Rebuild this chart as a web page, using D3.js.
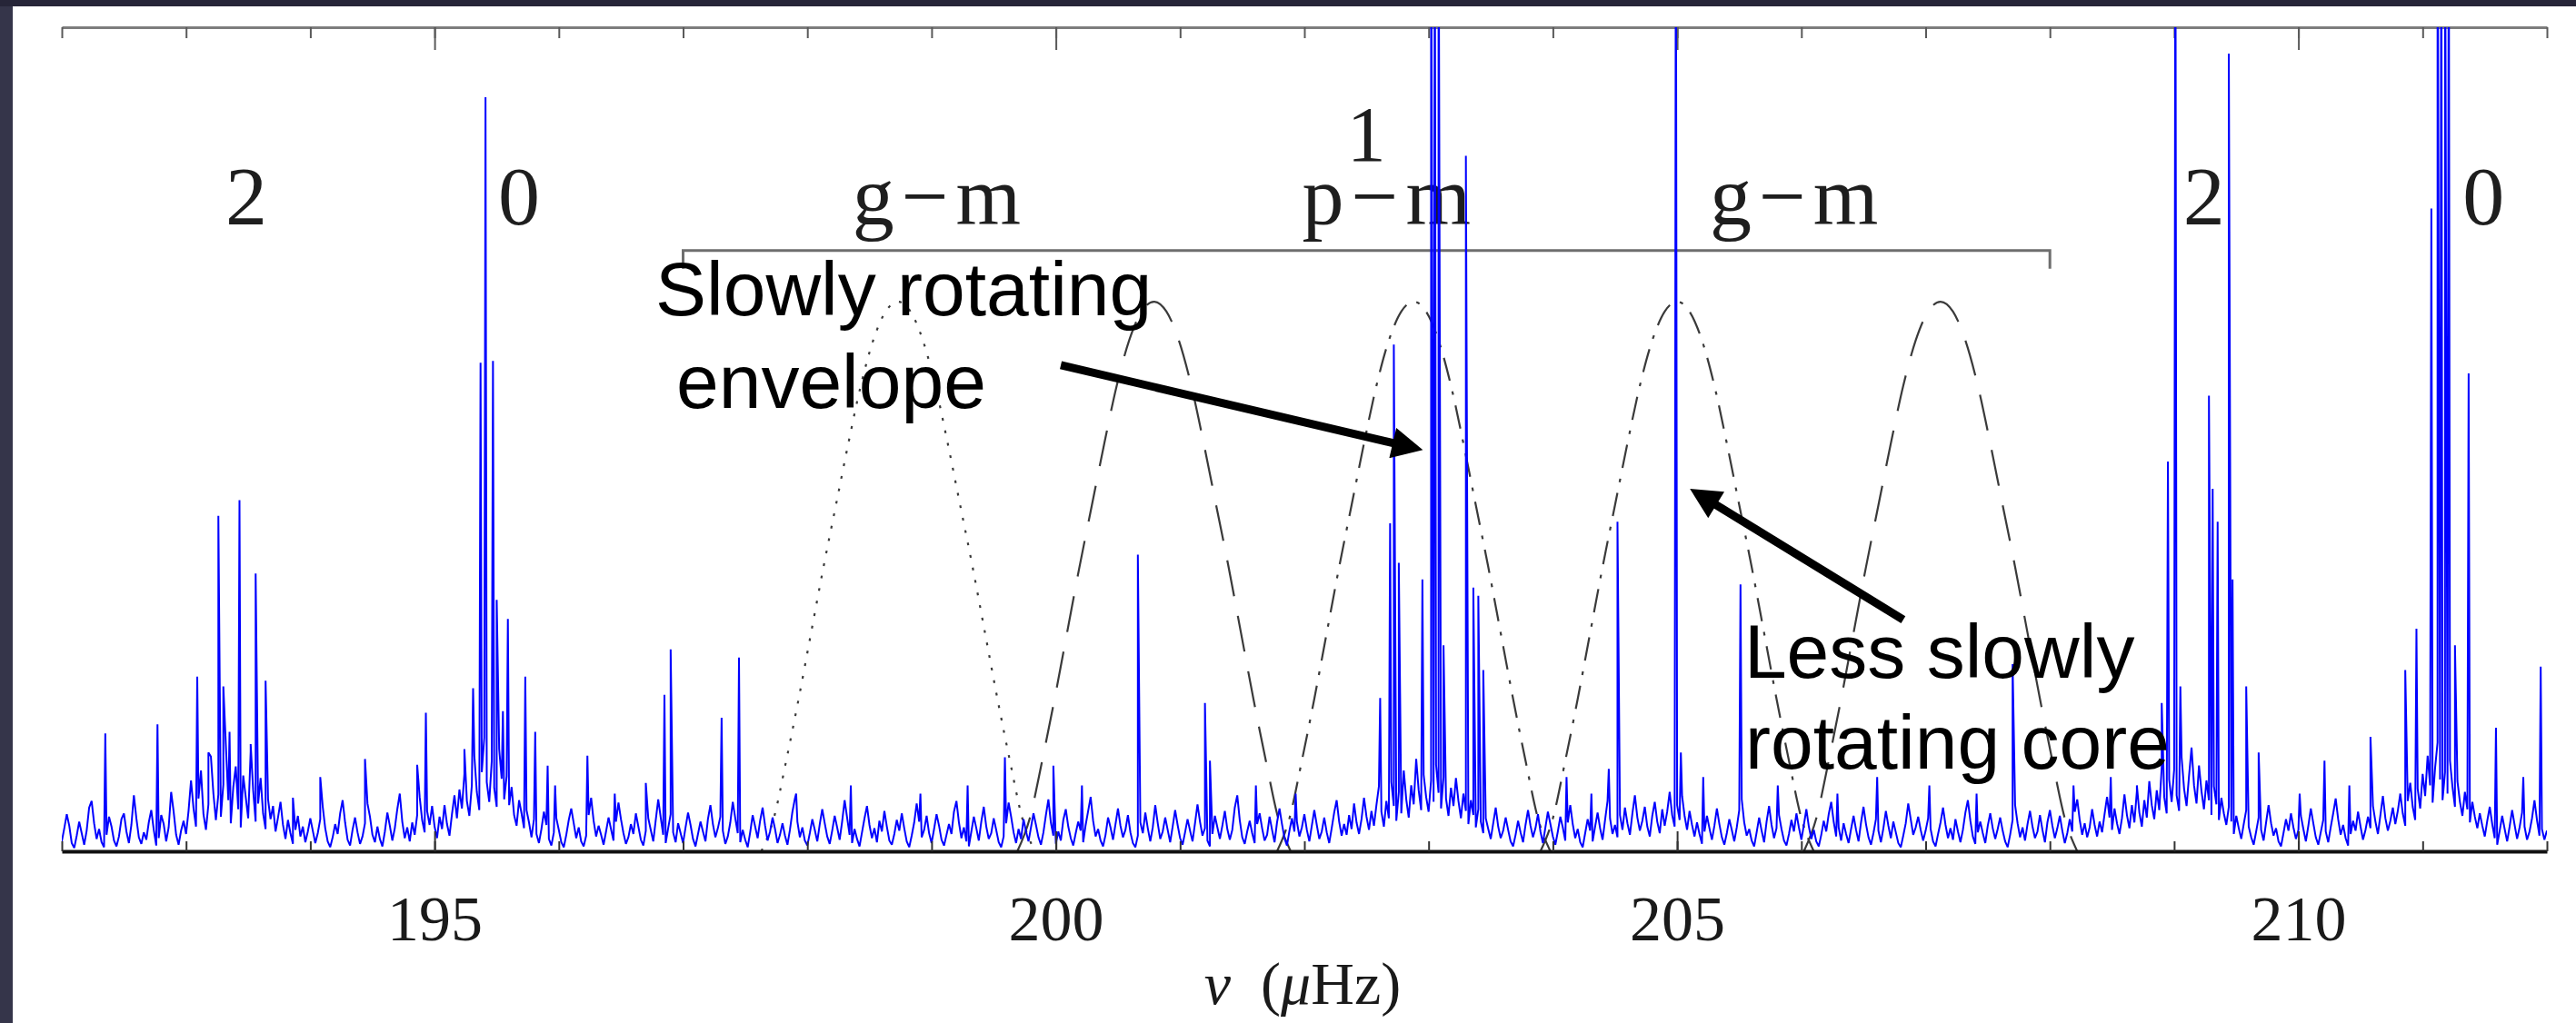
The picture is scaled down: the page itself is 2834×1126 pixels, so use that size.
<!DOCTYPE html>
<html>
<head>
<meta charset="utf-8">
<script src="https://cdn.jsdelivr.net/npm/d3@7"></script>
<style>
  html, body { margin: 0; padding: 0; background: #fff; }
  svg { display: block; }
</style>
</head>
<body>
<svg id="chart"></svg>
<script>
const W = 2834, H = 1126;

// noise floor of the power spectrum, one value every 0.02 uHz from 192 uHz
const noiseStart = 192, noiseStep = 0.02;
const noise = [
  // 192
  1.2,2.8,4.5,3.1,1.0,0.4,1.9,3.6,2.2,0.8,
  2.5,5.3,6.1,3.4,1.5,2.7,1.1,0.5,2.0,4.2,
  3.0,1.3,0.6,1.8,3.9,4.6,2.4,1.0,3.2,6.8,
  4.0,1.7,0.9,2.3,1.4,3.5,5.0,2.6,0.7,1.6,
  4.4,3.3,1.2,2.9,7.2,4.8,2.0,0.8,2.5,3.7,
  // 193
  2.1,4.9,8.6,5.2,3.0,6.4,9.8,4.5,2.6,5.7,
  11.5,7.0,3.8,6.9,4.2,8.1,13.0,6.2,3.4,7.8,
  10.3,5.1,2.9,9.2,6.6,4.0,12.1,7.4,3.6,5.8,
  8.9,4.6,2.7,6.3,3.9,5.5,2.4,4.1,6.0,3.2,
  1.5,3.8,2.2,0.9,2.6,4.3,1.8,3.0,1.1,2.4,
  // 194
  4.0,2.5,1.0,2.2,3.9,5.4,2.8,1.2,0.5,1.7,
  3.3,2.1,4.6,6.2,3.5,1.4,0.7,2.6,4.1,2.3,
  0.9,1.8,3.4,5.8,4.2,2.0,1.1,3.0,1.5,0.6,
  2.4,4.7,3.1,1.3,2.8,5.1,7.0,3.6,1.6,2.9,
  1.2,3.5,2.0,4.4,6.6,3.8,2.3,4.9,3.2,5.5,
  // 195
  3.0,1.6,4.2,2.7,5.6,3.3,1.9,4.5,6.8,4.0,
  7.5,5.2,9.4,6.1,4.3,8.0,11.6,7.2,5.0,9.6,
  13.8,8.4,6.0,10.9,7.7,5.4,12.4,8.8,6.3,9.1,
  5.6,7.8,4.4,3.1,6.2,4.6,2.8,5.0,3.5,1.7,
  3.9,2.1,1.0,2.7,4.8,3.2,1.5,0.7,2.3,4.0,
  // 196
  2.6,1.1,0.5,2.0,3.8,5.2,3.4,1.6,2.9,1.2,
  0.6,1.9,4.4,6.5,3.7,1.8,3.1,2.0,0.8,2.4,
  4.1,2.7,1.3,3.6,5.9,3.9,2.2,0.9,1.7,3.3,
  2.1,4.6,3.0,1.4,0.7,2.5,4.0,2.6,1.2,3.8,
  6.3,4.1,2.0,1.0,2.8,4.5,2.3,1.1,3.4,2.2,
  // 197
  1.0,2.9,4.7,3.2,1.5,0.6,2.1,3.6,2.4,1.2,
  3.9,5.6,3.3,1.7,2.8,4.2,2.5,0.9,1.8,3.5,
  6.0,4.0,2.2,1.1,2.6,1.4,0.5,2.3,4.4,3.0,
  1.6,3.7,5.3,3.1,1.3,2.4,4.1,2.7,1.0,2.0,
  3.4,1.9,0.8,2.6,4.8,6.4,3.6,1.7,2.9,1.3,
  // 198
  0.7,2.2,3.9,2.6,1.2,3.3,5.1,3.4,1.8,0.9,
  2.5,4.3,2.9,1.4,3.6,6.2,4.1,2.0,1.0,2.7,
  1.5,0.6,2.3,4.0,5.5,3.2,1.6,2.8,1.1,3.7,
  2.4,4.9,3.0,1.3,0.8,2.1,3.8,2.5,4.6,2.8,
  1.2,0.5,1.9,3.5,5.8,3.6,1.7,2.6,4.3,2.2,
  // 199
  1.0,2.7,4.5,3.1,1.4,0.7,2.0,3.3,2.1,4.8,
  6.1,3.5,1.6,2.9,1.2,0.6,2.4,4.2,2.8,1.3,
  3.6,5.4,3.0,1.5,2.2,4.0,2.6,1.1,0.5,1.8,
  3.4,5.9,4.2,2.3,1.0,2.7,1.5,3.9,2.4,1.2,
  2.9,4.6,3.2,1.7,0.8,2.3,4.4,6.3,3.5,1.9,
  // 200
  0.9,2.4,1.3,3.8,5.1,3.0,1.6,0.7,2.2,3.6,
  2.5,1.1,3.2,4.9,6.6,3.7,1.8,2.7,1.3,0.6,
  2.0,4.1,2.9,1.4,3.3,5.2,3.1,1.7,2.6,4.4,
  2.3,1.0,0.5,1.9,3.5,2.2,4.7,2.8,1.2,2.9,
  5.6,3.4,1.5,2.4,4.1,2.6,1.1,3.0,5.0,3.2,
  // 201
  1.6,0.8,2.3,3.9,2.5,1.2,3.4,5.7,3.6,1.9,
  2.8,1.3,0.6,2.1,4.3,2.9,1.5,3.1,4.9,2.7,
  1.4,2.6,5.3,6.8,3.8,1.7,0.9,2.4,3.7,2.2,
  1.0,3.3,4.6,2.8,1.3,2.0,4.2,2.6,1.1,3.5,
  5.2,3.3,1.6,0.7,2.5,4.0,2.4,3.6,1.8,2.9,
  // 202
  4.5,2.6,1.2,3.1,5.0,3.2,1.5,2.4,4.1,2.3,
  1.0,2.8,4.7,6.2,3.6,1.9,3.3,2.0,4.4,2.7,
  5.8,3.5,2.1,3.9,6.5,4.2,2.6,4.9,3.1,5.6,
  7.9,4.8,3.0,6.1,4.0,8.4,5.5,3.7,7.2,4.6,
  9.8,6.3,4.1,8.0,5.7,11.2,7.4,5.0,9.3,6.6,
  // 203
  4.8,8.6,6.0,10.5,7.1,5.2,9.0,6.4,4.3,7.7,
  5.5,8.9,6.1,4.0,7.0,4.9,3.3,6.2,4.4,2.9,
  5.1,3.6,2.2,4.0,2.7,1.5,3.4,5.3,3.0,1.6,
  2.5,4.1,2.6,1.2,0.6,2.0,3.7,2.3,1.1,3.2,
  5.0,3.1,1.7,2.8,4.5,2.4,1.0,2.9,4.8,3.3,
  // 204
  1.8,0.8,2.4,4.2,2.9,1.3,3.5,5.6,3.3,1.6,
  2.7,1.1,0.5,2.2,3.9,2.5,1.2,3.0,4.7,2.8,
  1.4,3.8,6.1,4.0,2.1,3.2,1.7,4.4,2.6,5.3,
  3.4,2.0,4.6,6.8,4.1,2.5,3.7,5.4,3.0,1.8,
  4.3,6.0,3.6,2.2,5.1,3.1,4.8,7.2,4.4,3.0,
  // 205
  5.6,3.8,6.7,4.3,2.6,4.9,3.2,1.8,3.5,2.1,
  0.9,2.4,4.3,2.8,1.4,3.1,5.2,3.3,1.7,0.8,
  2.2,3.9,2.6,1.2,2.9,5.0,6.3,3.5,1.9,2.7,
  1.3,0.6,2.3,4.1,2.5,1.1,3.6,5.5,3.2,1.6,
  2.8,4.4,2.7,1.3,0.7,2.1,3.8,2.4,4.6,2.9,
  // 206
  1.4,3.2,5.1,3.0,1.5,2.6,1.2,0.6,2.0,3.7,
  2.4,4.5,6.0,3.6,1.8,2.9,1.3,3.4,2.1,1.0,
  2.7,4.3,2.6,1.2,3.5,5.4,3.3,1.7,0.8,2.2,
  3.9,2.5,1.1,2.8,4.9,3.1,1.6,3.6,2.3,1.0,
  0.5,1.9,3.4,5.8,3.9,2.0,2.9,4.2,2.6,1.3,
  // 207
  2.5,4.0,2.7,1.2,0.6,2.1,3.5,5.3,3.2,1.6,
  2.8,1.4,3.9,2.4,1.1,2.6,4.7,6.2,3.7,1.8,
  0.9,2.3,3.6,2.2,1.0,3.1,4.6,2.8,1.5,2.7,
  4.1,2.5,1.2,0.5,2.0,3.8,5.6,3.4,1.7,2.9,
  1.3,3.3,4.9,3.0,1.6,2.4,4.4,2.6,1.1,3.5,
  // 208
  5.0,3.1,1.6,2.8,4.3,2.5,1.0,2.2,3.9,2.4,
  4.8,6.3,3.8,2.0,3.4,1.7,2.9,5.1,3.2,1.8,
  3.6,2.3,4.5,6.6,4.1,2.6,5.2,3.4,2.1,4.0,
  6.9,4.4,2.8,5.6,3.5,7.3,4.7,3.0,6.2,4.1,
  8.5,5.6,3.9,7.4,5.0,10.2,6.6,4.6,8.7,6.0,
  // 209
  9.9,6.8,4.9,11.4,7.6,5.5,9.2,12.6,8.0,5.8,
  10.4,7.3,5.1,8.6,6.2,4.4,7.9,5.7,3.8,6.5,
  4.6,3.2,5.4,3.6,2.1,4.3,2.8,1.5,3.3,5.0,
  3.0,1.7,0.8,2.4,4.1,2.6,1.3,3.5,5.6,3.4,
  1.9,2.8,1.2,0.6,2.2,3.9,2.5,4.6,2.9,1.5,
  // 210
  2.6,4.3,2.7,1.2,3.1,5.2,3.4,1.7,0.8,2.3,
  3.8,2.4,1.1,2.9,4.6,6.4,3.9,2.0,3.2,1.6,
  0.7,2.1,3.7,2.5,4.8,3.0,1.4,2.6,4.2,2.8,
  5.5,3.6,2.1,4.4,6.7,4.0,2.5,3.7,5.3,3.3,
  4.9,7.0,4.6,3.1,6.1,8.3,5.4,3.8,7.6,5.2,
  // 211
  9.4,6.7,11.6,8.0,5.9,10.1,13.2,8.7,6.2,9.6,
  7.0,11.0,7.8,5.4,8.5,6.0,4.3,7.2,5.1,3.5,
  6.0,4.2,2.8,4.6,3.1,1.8,3.7,5.4,3.3,1.6,
  0.8,2.5,4.3,2.7,1.2,3.0,5.0,3.2,1.5,2.9,
  4.7,3.0,1.4,2.4,4.0,6.2,3.8,1.9,2.7,1.4,
  // 212
  2.5
];

// resolved mode peaks and isolated noise spikes: [frequency (uHz), power];
// values above 100 run off the top of the frame
const peaks = [
  [192.35,14.3],[192.77,15.4],[193.09,21.2],[193.18,12],[193.26,40.7],[193.30,20],
  [193.35,14.5],[193.43,42.6],[193.52,13],[193.56,33.7],[193.64,20.7],[193.86,6.5],
  [194.08,9],[194.44,11.2],[194.86,10.5],[194.93,16.8],[195.24,12.4],[195.31,19.8],
  [195.37,59.3],[195.41,91.5],[195.47,59.5],[195.50,30.5],[195.55,17],[195.59,28.2],
  [195.73,21.2],[195.81,14.5],[195.91,10.4],[195.97,8],[196.23,11.6],[196.45,7],
  [196.70,8.3],[196.85,19],[196.90,24.5],[197.31,16.2],[197.45,23.5],[197.91,7],
  [198.35,8],[198.91,7],[199.29,8],[199.59,11.4],[199.98,10.4],[200.21,8],
  [200.66,36],[201.20,18],[201.24,11],[201.61,8],[201.93,7],[202.61,18.6],
  [202.69,39.8],[202.72,61.5],[202.76,35],[202.95,33],[203.02,120],[203.05,120],
  [203.08,120],[203.12,25],[203.30,84.4],[203.36,32],[203.40,31],[203.44,22],
  [204.11,9],[204.31,7],[204.45,10],[204.52,40],[204.99,120],[205.03,12],
  [205.21,9],[205.51,32.4],[205.81,8],[206.29,7],[206.61,9],[207.03,8],
  [207.41,7],[207.70,22.7],[208.19,8],[208.49,9],[208.70,8],[208.90,18],
  [208.95,47.3],[209.01,120],[209.05,20],[209.28,55.3],[209.31,44],[209.35,40],
  [209.44,96.8],[209.47,33],[209.58,20],[209.68,12],[210.01,7],[210.21,11],
  [210.41,8],[210.58,13.9],[210.86,22],[210.95,27],[211.07,78],[211.12,120],
  [211.15,120],[211.18,120],[211.21,120],[211.26,25],[211.37,58],[211.59,15],
  [211.81,9],[211.95,22.4]
];

const envOffsets = [-1.1,-1.0,-0.9,-0.8,-0.7,-0.6,-0.5,-0.4,-0.3,-0.2,-0.1,0,
                    0.1,0.2,0.3,0.4,0.5,0.6,0.7,0.8,0.9,1.0,1.1];
const envPower   = [0,4,11,18.5,26.5,34.5,42,49.5,56.5,62,65.5,66.7,
                    65.5,62,56.5,49.5,42,34.5,26.5,18.5,11,4,0];
const envCentres = [198.73, 200.79, 202.88, 205.0, 207.12];
const envStyles  = ["dot", "dash", "dashdot", "dashdot", "dash"];

const xTickLabels = [195, 200, 205, 210];
const minorTicks = d3.range(192, 213);

// degree labels across the top and the mixed-mode labels
const degreeLabels = [
  { text: "2", f: 193.485 }, { text: "0", f: 195.68 },
  { text: "g\u2212m", f: 199.07 },
  { text: "g\u2212m", f: 205.97 }, { text: "2", f: 209.24 }, { text: "0", f: 211.49 }
];
const dipoleLabel = { top: "1", topF: 202.50, text: "p\u2212m", f: 202.69 };
const bracket = [197, 208];

const notes = [
  { text: "Slowly rotating", f: 196.777, v: 65.05 },
  { text: "envelope", f: 196.945, v: 53.8 },
  { text: "Less slowly", f: 205.54, v: 21.06 },
  { text: "rotating core", f: 205.548, v: 10.03 }
];
const arrows = [
  { from: [200.04, 59.0], to: [202.98, 48.6] },
  { from: [206.82, 28.1], to: [205.08, 44.2] }
];

// scales
const x = d3.scaleLinear().domain([192, 212]).range([68, 2802]);
const y = d3.scaleLinear().domain([0, 100]).range([937, 30]);

const svg = d3.select("#chart")
  .attr("width", W)
  .attr("height", H);

svg.append("rect").attr("width", W).attr("height", H).attr("fill", "#fff");
// dark slide frame
svg.append("rect").attr("width", W).attr("height", 7).attr("fill", "#262538");
svg.append("rect").attr("y", 7).attr("width", 14).attr("height", H - 7).attr("fill", "#35354a");

const defs = svg.append("defs");
defs.append("clipPath").attr("id", "plot")
  .append("rect")
  .attr("x", x(192)).attr("y", y(100))
  .attr("width", x(212) - x(192)).attr("height", y(0) - y(100));

defs.append("marker")
  .attr("id", "head")
  .attr("markerUnits", "userSpaceOnUse")
  .attr("viewBox", "0 0 10 10")
  .attr("refX", 5.2).attr("refY", 5)
  .attr("markerWidth", 42).attr("markerHeight", 34)
  .attr("orient", "auto")
  .append("path")
  .attr("d", "M0,0L10,5L0,10z")
  .attr("fill", "#000");

// TOP AXIS (ticks pointing down into the plot)
const topAxis = svg.append("g")
  .attr("transform", "translate(0," + y(100) + ")")
  .call(d3.axisBottom(x).tickValues(minorTicks).tickSize(12).tickSizeOuter(0).tickFormat(""));
topAxis.select(".domain").attr("stroke", "#7d7d7d").attr("stroke-width", 3);
topAxis.selectAll(".tick line").attr("stroke", "#5a5a5a").attr("stroke-width", 2);

const topMajor = svg.append("g")
  .attr("transform", "translate(0," + y(100) + ")")
  .call(d3.axisBottom(x).tickValues(xTickLabels).tickSize(25).tickSizeOuter(0).tickFormat(""));
topMajor.select(".domain").remove();
topMajor.selectAll(".tick line").attr("stroke", "#5a5a5a").attr("stroke-width", 2);

// DEGREE LABELS AND BRACKET
const serif = "'Liberation Serif', 'DejaVu Serif', serif";
svg.append("g").selectAll("text")
  .data(degreeLabels)
  .enter().append("text")
  .attr("x", d => x(d.f))
  .attr("y", y(76.08))
  .attr("text-anchor", "middle")
  .attr("font-family", serif)
  .attr("font-size", 92)
  .attr("letter-spacing", d => d.text.length > 1 ? 8 : 0)
  .attr("fill", "#1e1e1e")
  .text(d => d.text);

// l = 1 label stacked over its p-m label
const dip = svg.append("text")
  .attr("text-anchor", "middle")
  .attr("font-family", serif)
  .attr("fill", "#1e1e1e");
dip.append("tspan")
  .attr("x", x(dipoleLabel.topF)).attr("y", y(83.8))
  .attr("font-size", 86)
  .text(dipoleLabel.top);
dip.append("tspan")
  .attr("x", x(dipoleLabel.f)).attr("y", y(76.08))
  .attr("font-size", 92)
  .attr("letter-spacing", 8)
  .text(dipoleLabel.text);

svg.append("path")
  .attr("d", d3.line()([
    [x(bracket[0]), y(70.7)], [x(bracket[0]), y(72.9)],
    [x(bracket[1]), y(72.9)], [x(bracket[1]), y(70.7)]
  ]))
  .attr("fill", "none")
  .attr("stroke", "#6e6e6e")
  .attr("stroke-width", 3);

// ENVELOPES
const dashes = { dot: "3,11", dash: "40,22", dashdot: "26,12,4,12" };
const envLine = d3.line()
  .x(d => x(d[0]))
  .y(d => y(d[1]))
  .curve(d3.curveMonotoneX);

svg.append("g").selectAll("path")
  .data(envCentres)
  .enter().append("path")
  .attr("d", c => envLine(envOffsets.map((o, j) => [c + o, envPower[j]])))
  .attr("fill", "none")
  .attr("stroke", "#3a3a3a")
  .attr("stroke-width", 2.2)
  .attr("stroke-dasharray", (c, i) => dashes[envStyles[i]]);

// SPECTRUM
const spectrum = noise.map((v, i) => [noiseStart + i * noiseStep, v])
  .concat(peaks)
  .sort((a, b) => a[0] - b[0]);

svg.append("path")
  .datum(spectrum)
  .attr("clip-path", "url(#plot)")
  .attr("d", d3.line().x(d => x(d[0])).y(d => y(d[1])))
  .attr("fill", "none")
  .attr("stroke", "#0000ff")
  .attr("stroke-width", 2)
  .attr("stroke-linejoin", "miter")
  .attr("stroke-miterlimit", 2);

// BOTTOM AXIS
const bottomMinor = svg.append("g")
  .attr("transform", "translate(0," + y(0) + ")")
  .call(d3.axisBottom(x).tickValues(minorTicks).tickSizeInner(-11).tickSizeOuter(0).tickFormat(""));
bottomMinor.select(".domain").attr("stroke", "#111").attr("stroke-width", 4);
bottomMinor.selectAll(".tick line").attr("stroke", "#333").attr("stroke-width", 2);

const bottomAxis = svg.append("g")
  .attr("transform", "translate(0," + y(0) + ")")
  .call(d3.axisBottom(x).tickValues(xTickLabels).tickSizeInner(-22).tickSizeOuter(0).tickPadding(48));
bottomAxis.select(".domain").remove();
bottomAxis.selectAll(".tick line").attr("stroke", "#333").attr("stroke-width", 2);
bottomAxis.selectAll(".tick text")
  .attr("font-family", serif)
  .attr("font-size", 70)
  .attr("fill", "#1a1a1a");

const xLabel = svg.append("text")
  .attr("x", 1433)
  .attr("y", 1105)
  .attr("text-anchor", "middle")
  .attr("font-family", serif)
  .attr("font-size", 66)
  .attr("fill", "#1a1a1a");
xLabel.append("tspan").attr("font-style", "italic").text("\u03bd");
xLabel.append("tspan").text("\u2002(");
xLabel.append("tspan").attr("font-style", "italic").text("\u03bc");
xLabel.append("tspan").text("Hz)");

// ANNOTATIONS
svg.append("g").selectAll("text")
  .data(notes)
  .enter().append("text")
  .attr("x", d => x(d.f))
  .attr("y", d => y(d.v))
  .attr("font-family", "'Liberation Sans', Arial, sans-serif")
  .attr("font-size", 84)
  .attr("fill", "#000")
  .text(d => d.text);

arrows.forEach(a => {
  const x0 = x(a.from[0]), y0 = y(a.from[1]);
  const x1 = x(a.to[0]), y1 = y(a.to[1]);
  const len = Math.hypot(x1 - x0, y1 - y0);
  const k = (len - 20) / len;
  svg.append("line")
    .attr("x1", x0).attr("y1", y0)
    .attr("x2", x0 + (x1 - x0) * k).attr("y2", y0 + (y1 - y0) * k)
    .attr("stroke", "#000")
    .attr("stroke-width", 9)
    .attr("marker-end", "url(#head)");
});
</script>
</body>
</html>
